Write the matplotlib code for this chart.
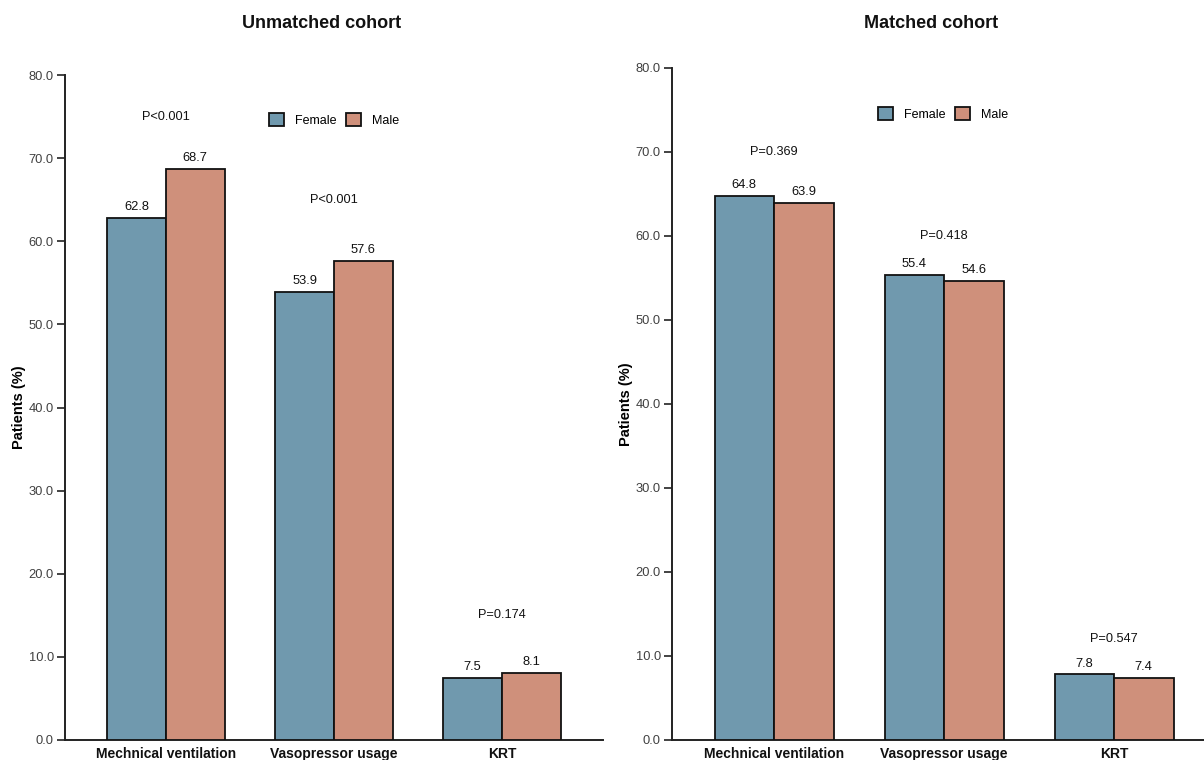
import matplotlib
matplotlib.use("Agg")
import matplotlib.pyplot as plt
import numpy as np

plt.rcParams['font.family'] = ['Liberation Sans', 'DejaVu Sans']

categories = ["Mechnical ventilation", "Vasopressor usage", "KRT"]
series_names = ["Female", "Male"]

unmatched_female = [62.8, 53.9, 7.5]
unmatched_male = [68.7, 57.6, 8.1]
unmatched_p = ["P<0.001", "P<0.001", "P=0.174"]
unmatched_p_y = [75.0, 65.0, 15.0]

matched_female = [64.8, 55.4, 7.8]
matched_male = [63.9, 54.6, 7.4]
matched_p = ["P=0.369", "P=0.418", "P=0.547"]
matched_p_y = [70.0, 60.0, 12.0]

y_ticks = [0, 10, 20, 30, 40, 50, 60, 70, 80]

FEMALE_COLOR = "#7099AE"
MALE_COLOR = "#CF907B"
EDGE = "#111111"
W = 1204
H = 760

fig = plt.figure(figsize=(W / 100, H / 100), dpi=100)
ax1 = fig.add_axes([65 / W, 20 / H, 538 / W, 665 / H])
ax2 = fig.add_axes([672 / W, 20 / H, 544 / W, 672 / H])


def draw_panel(ax, title, female, male, p_text, p_y):
    x = np.arange(len(categories))
    width = 0.35
    b1 = ax.bar(x - width / 2, female, width, color=FEMALE_COLOR,
                edgecolor=EDGE, linewidth=1.3, label=series_names[0], zorder=3)
    b2 = ax.bar(x + width / 2, male, width, color=MALE_COLOR,
                edgecolor=EDGE, linewidth=1.3, label=series_names[1], zorder=3)
    for bars in (b1, b2):
        ax.bar_label(bars, fmt="%.1f", padding=3.5, fontsize=9.3, color="#111111")
    for xi, txt, yy in zip(x, p_text, p_y):
        ax.text(xi, yy, txt, ha="center", va="center", fontsize=9.2, color="#111111")

    ax.set_xlim(-0.6, 2.6)
    ax.set_ylim(0, 80)
    ax.set_yticks(y_ticks)
    ax.set_yticklabels([f"{v:.1f}" for v in y_ticks])
    ax.set_xticks(x)
    ax.set_xticklabels(categories, fontsize=10, fontweight="bold", color="#111111")
    ax.tick_params(axis="x", length=0, pad=5)
    ax.tick_params(axis="y", length=5.5, width=1.2, color="#222222",
                   labelsize=9.3, labelcolor="#404040", pad=2.5)
    for side in ("top", "right"):
        ax.spines[side].set_visible(False)
    for side in ("left", "bottom"):
        ax.spines[side].set_linewidth(1.4)
        ax.spines[side].set_color("#222222")
    ax.set_ylabel("Patients (%)", fontsize=10.5, fontweight="bold", labelpad=2)
    ax.text(0.477, 1.0, title, transform=ax.transAxes, ha="center", va="center",
            fontsize=13, fontweight="bold", color="#111111")
    leg = ax.legend(loc="center left", bbox_to_anchor=(0.379, 0.932), ncol=2,
                    frameon=False, fontsize=9, handlelength=1.2, handleheight=1.2,
                    handletextpad=0.85, columnspacing=0.8, borderpad=0,
                    borderaxespad=0)
    return leg


draw_panel(ax1, "Unmatched cohort", unmatched_female, unmatched_male,
           unmatched_p, unmatched_p_y)
draw_panel(ax2, "Matched cohort", matched_female, matched_male,
           matched_p, matched_p_y)

# titles sit near the top edge of the figure
ax1.texts[-1].set_position((0.477, (H - 24 - 20) / 665))
ax2.texts[-1].set_position((0.477, (H - 24 - 20) / 672))

fig.savefig("out.png", dpi=100)
